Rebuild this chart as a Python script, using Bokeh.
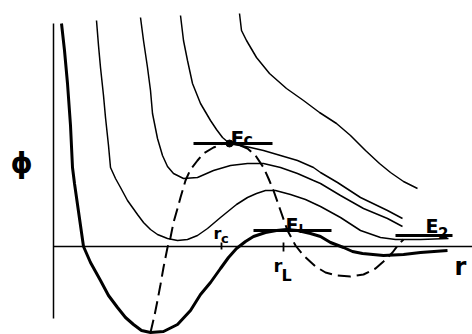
from bokeh.plotting import figure
from bokeh.models import Range1d, Label
from bokeh.embed import file_html
from bokeh.resources import INLINE

# Effective potential phi(r) for several angular momenta (arbitrary units)
# ground curve (L = 0), drawn heavy
r_0 = [61, 64, 67, 70, 72, 74, 77, 80, 83, 90, 100, 108, 117, 125, 133, 141, 150,
       163, 177, 190, 200, 210, 220, 228, 236, 245, 253, 265, 276, 286, 297, 310,
       320, 330, 343, 352, 362, 383, 403, 420, 447]
phi_0 = [223, 196, 163, 121, 79, 63, 42, 21, 0, -16, -34, -49, -61, -71, -78, -84, -86,
         -85, -78, -64, -48, -36, -22, -11, -2, 5, 10, 14, 16, 17, 16, 13,
         10, 4, -1, -5, -7, -9, -8, -6, -4]

# family of curves for increasing angular momentum
r_a = [96, 98, 100, 103, 105, 108, 110, 115, 120, 127, 137, 143, 150, 157, 167, 177,
       187, 197, 207, 220, 236, 247, 256, 265, 275, 290, 305, 320, 340, 360, 380,
       395, 420, 448]
phi_a = [226, 201, 179, 151, 129, 101, 79, 68, 59, 46, 32, 24, 17, 12, 8, 6,
         7, 11, 18, 29, 42, 49, 53, 56, 56, 52, 47, 40, 29, 16, 9,
         7, 7, 8]

r_b = [140, 143, 147, 150, 152, 157, 162, 167, 173, 183, 197, 213, 230, 247, 263,
       280, 297, 313, 320, 340, 363, 387, 402]
phi_b = [229, 206, 179, 156, 133, 108, 91, 80, 73, 68, 69, 76, 81, 83, 83,
         79, 73, 66, 63, 51, 38, 28, 20]

r_c = [180, 183, 187, 192, 200, 210, 216, 222, 229, 236, 243, 250, 263, 280, 297,
       313, 320, 337, 360, 387, 402]
phi_c = [231, 206, 186, 163, 143, 126, 117, 109, 103, 101.5, 100.5, 99, 96, 91, 86,
         79, 74, 64, 49, 36, 28]

r_d = [239, 241, 246, 256, 269, 286, 303, 319, 336, 350, 365, 379, 390, 403, 417]
phi_d = [233, 216, 206, 189, 173, 158, 146, 134, 123, 111, 96, 83, 74, 65, 58]

# locus of the extrema (dashed)
r_ext = [150, 154, 157, 160, 163, 167, 170, 173, 177, 180, 185, 190, 197, 203, 213,
         223, 229, 240, 247, 255, 263, 268, 273, 280, 287, 295, 303, 315, 325, 336,
         350, 363, 375, 383, 392, 398, 403]
phi_ext = [-86, -69, -54, -38, -21, -1, 9, 24, 38, 49, 66, 77, 86, 93, 99,
           103, 103, 101, 98, 91, 79, 68, 56, 36, 16, 1, -9, -20, -26, -29,
           -30, -28, -22, -15, -6, 2, 7]

# energy levels: (r start, r end, phi)
levels_r0 = [193, 253, 395]
levels_r1 = [272, 331, 452]
levels_phi = [103, 16, 11]

# critical point on curve c
ec_r, ec_phi = 229, 103

# marked radii on the r axis
r_marks = [221, 283]

p = figure(width=472, height=334, output_backend="svg", toolbar_location=None,
           x_range=Range1d(0, 472), y_range=Range1d(-88, 246),
           min_border=0, outline_line_color=None, background_fill_color="white",
           border_fill_color="white")
p.axis.visible = False
p.grid.visible = False

ink = "black"

# coordinate axes
p.line([53, 53], [223, -72], line_color=ink, line_width=1.5)
p.line([53, 472], [0, 0], line_color=ink, line_width=1.5)

# potential curves
for rs, ps in [(r_a, phi_a), (r_b, phi_b), (r_c, phi_c), (r_d, phi_d)]:
    p.line(rs, ps, line_color=ink, line_width=1.5)
p.line(r_0, phi_0, line_color=ink, line_width=3)
p.line(r_ext, phi_ext, line_color=ink, line_width=2, line_dash="13 6")

# energy levels
p.segment(x0=levels_r0, x1=levels_r1, y0=levels_phi, y1=levels_phi,
          line_color=ink, line_width=3)
p.scatter([ec_r], [ec_phi], size=7, color=ink)

# radius ticks
p.segment(x0=r_marks, x1=r_marks, y0=[4, 4], y1=[-3, -5], line_color=ink, line_width=1.8)

font = "DejaVu Sans"


def lab(x, y, t, size):
    p.add_layout(Label(x=x, y=y, text=t, text_font=font, text_font_size=f"{size}px",
                       text_font_style="bold", text_color=ink,
                       text_align="left", text_baseline="alphabetic"))


lab(230, 109, "E", 20)
lab(243, 107, "c", 16)
lab(285, 22, "E", 19)
lab(298, 18, "L", 13)
lab(425, 21, "E", 19)
lab(437.5, 14, "2", 15)
lab(213, 13, "r", 16)
lab(220.5, 8, "c", 13)
lab(273, -19, "r", 18)
lab(281, -29, "L", 16)
lab(454, -20, "r", 24)
lab(10, 83, "ϕ", 28)

open("out.html", "w").write(file_html(p, INLINE))
